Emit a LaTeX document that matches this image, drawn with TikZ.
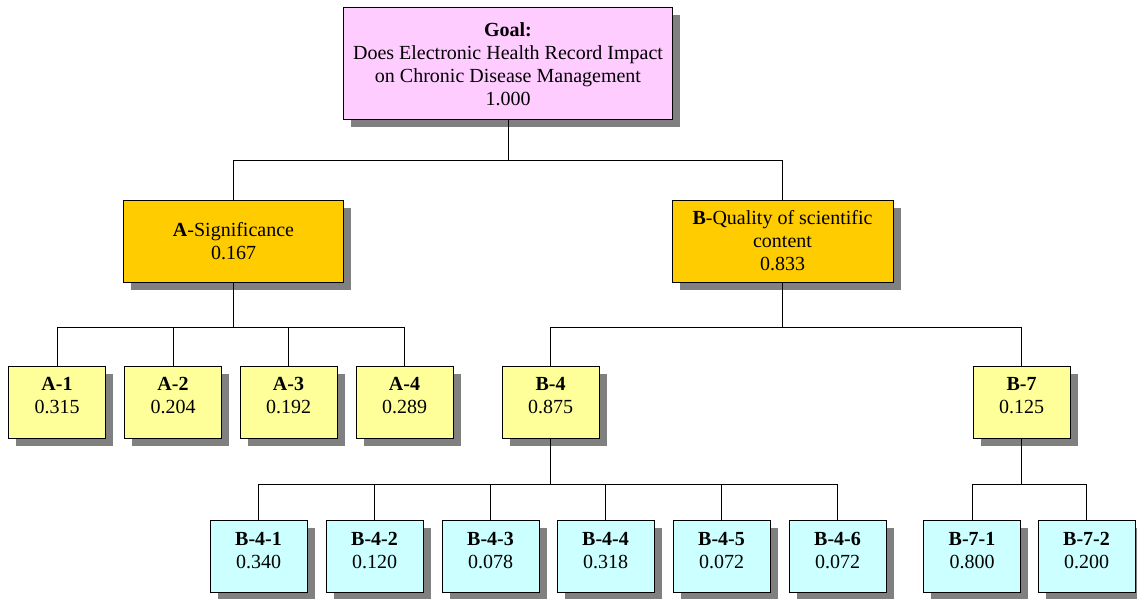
\documentclass[tikz,border=0pt]{standalone}
\usepackage{fontspec}
\setmainfont{Liberation Serif}
\usepackage{tikz}
\usetikzlibrary{positioning,shadows}
\definecolor{goalpink}{RGB}{255,204,255}
\definecolor{critorange}{RGB}{255,204,0}
\definecolor{subyellow}{RGB}{255,255,153}
\definecolor{leafcyan}{RGB}{204,255,255}
\definecolor{shadowgray}{RGB}{128,128,128}

\begin{document}
\begin{tikzpicture}[x=1pt, y=-1pt,
  box/.style={rectangle, draw=black, line width=1pt, fill=#1, inner sep=0pt,
              align=center, font=\fontsize{20}{23}\selectfont,
              drop shadow={shadow xshift=7.5pt, shadow yshift=-7.5pt,
                           fill=shadowgray, opacity=1}},
  small/.style={box=#1, minimum width=97pt, minimum height=72pt, text depth=13pt},
  link/.style={draw=black, line width=1pt},
]
\useasboundingbox (0,0) rectangle (1137,599);

% goal and criteria
\node[box=goalpink, minimum width=329pt, minimum height=112pt] (goal) at (508,64)
  {\textbf{Goal:}\\Does Electronic Health Record Impact\\on Chronic Disease Management\\1.000};
\node[box=critorange, minimum width=220pt, minimum height=82pt] (sa) at (233.5,241)
  {\textbf{A}-Significance\\0.167};
\node[box=critorange, minimum width=221pt, minimum height=82pt] (sb) at (782.5,241)
  {\textbf{B}-Quality of scientific\\content\\0.833};

% sub-criteria
\foreach \n/\x/\v in {1/57/0.315, 2/173/0.204, 3/288.5/0.192, 4/404.5/0.289}
  \node[small=subyellow] (a\n) at (\x,402) {\textbf{A-\n}\\\v};
\node[small=subyellow] (b4) at (550.5,402) {\textbf{B-4}\\0.875};
\node[small=subyellow] (b7) at (1021.5,402) {\textbf{B-7}\\0.125};

% leaves
\foreach \n/\x/\v in {1/258.5/0.340, 2/374.5/0.120, 3/490.5/0.078,
                      4/605.5/0.318, 5/721.5/0.072, 6/837.5/0.072}
  \node[small=leafcyan] (b4\n) at (\x,556.5) {\textbf{B-4-\n}\\\v};
\node[small=leafcyan] (b71) at (972,556.5) {\textbf{B-7-1}\\0.800};
\node[small=leafcyan] (b72) at (1086.5,556.5) {\textbf{B-7-2}\\0.200};

% connectors
\draw[link] (goal.south) -- ++(0,40) coordinate (jg);
\draw[link] (jg) -| (sa.north);
\draw[link] (jg) -| (sb.north);
\draw[link] (sa.south) -- ++(0,45) coordinate (ja);
\foreach \n in {1,...,4}
  \draw[link] (ja) -| (a\n.north);
\draw[link] (sb.south) -- ++(0,45) coordinate (jb);
\draw[link] (jb) -| (b4.north);
\draw[link] (jb) -| (b7.north);
\draw[link] (b4.south) -- ++(0,46) coordinate (jb4);
\foreach \n in {1,...,6}
  \draw[link] (jb4) -| (b4\n.north);
\draw[link] (b7.south) -- ++(0,46) coordinate (jb7);
\draw[link] (jb7) -| (b71.north);
\draw[link] (jb7) -| (b72.north);
\end{tikzpicture}
\end{document}
